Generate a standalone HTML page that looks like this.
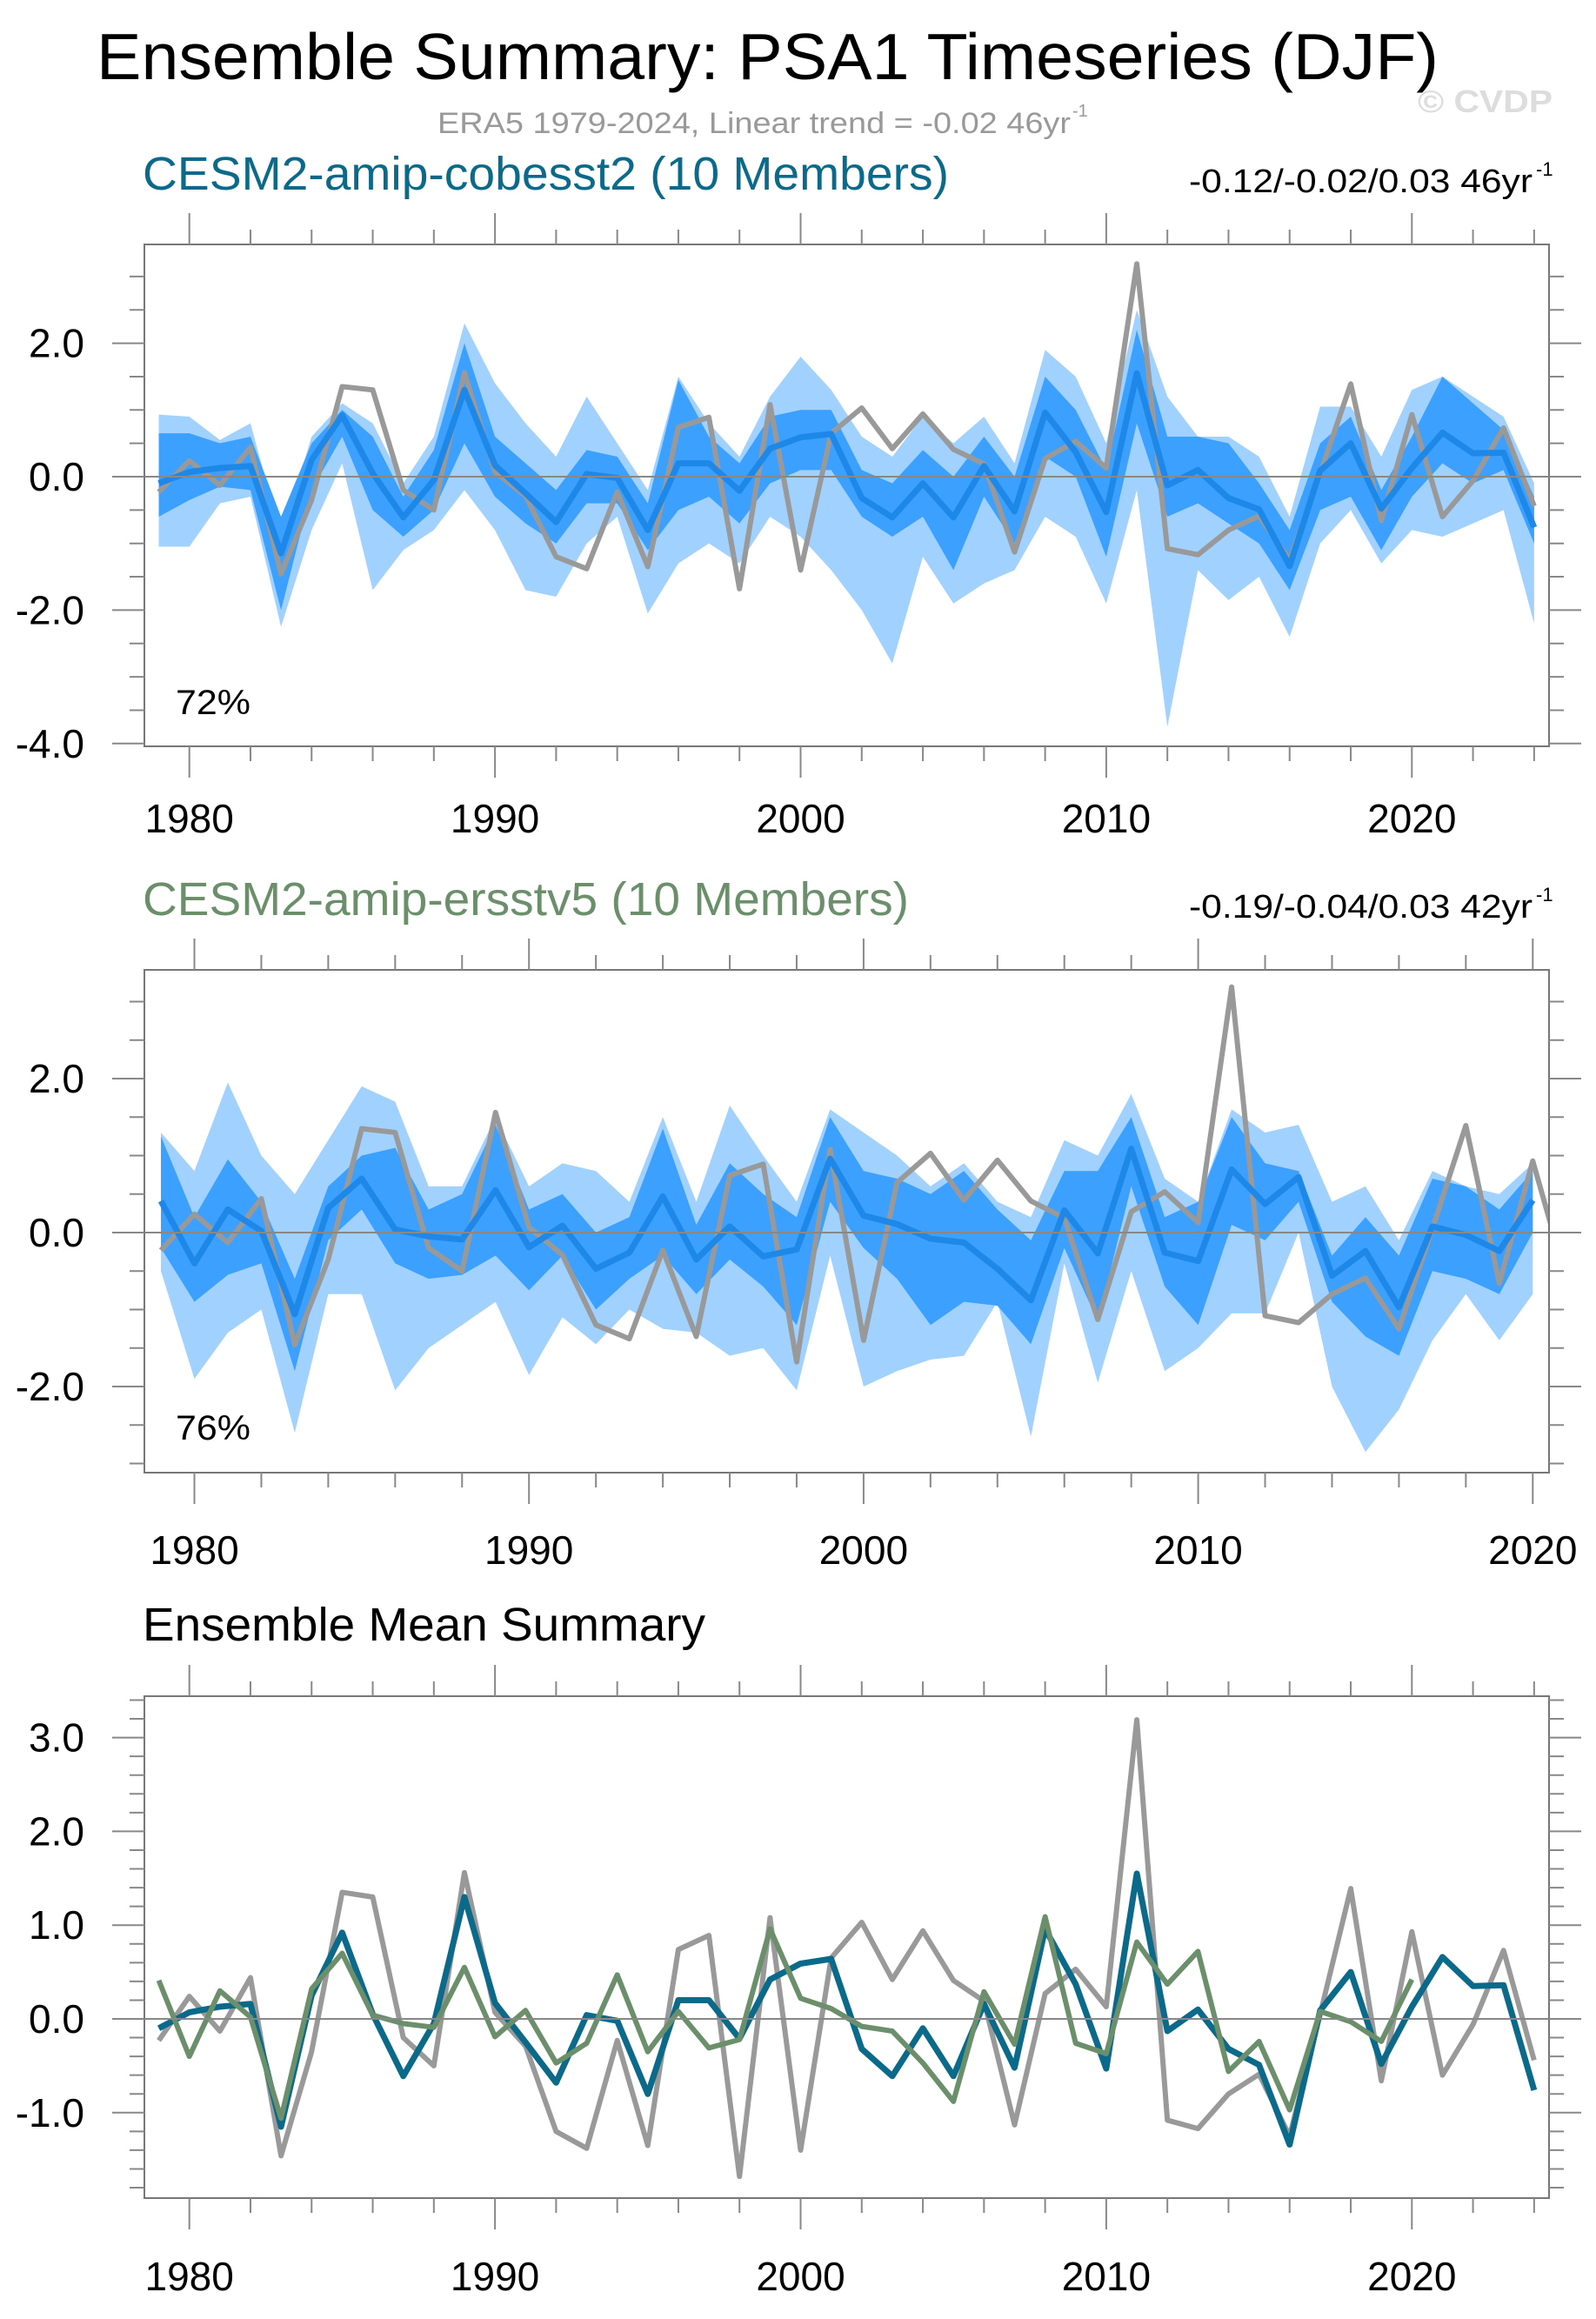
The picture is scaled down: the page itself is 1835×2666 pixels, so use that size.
<!DOCTYPE html>
<html><head><meta charset="utf-8"><title>Ensemble Summary: PSA1 Timeseries (DJF)</title>
<style>html,body{margin:0;padding:0;background:#fff}svg{display:block}text{font-family:"Liberation Sans",Arial,sans-serif}</style>
</head><body>
<svg id="chart" xmlns="http://www.w3.org/2000/svg" width="1835" height="2666" viewBox="0 0 1835 2666">
<rect width="1835" height="2666" fill="#fff"/>
<text x="111" y="91" font-size="75" textLength="1543" lengthAdjust="spacingAndGlyphs">Ensemble Summary: PSA1 Timeseries (DJF)</text>
<text x="503" y="153" font-size="34" fill="#999" textLength="728" lengthAdjust="spacingAndGlyphs">ERA5 1979-2024, Linear trend = -0.02 46yr</text>
<text x="1233" y="134" font-size="20" fill="#999">-1</text>
<text x="1630" y="129" font-size="36" font-weight="bold" fill="#ddd" textLength="155" lengthAdjust="spacingAndGlyphs">© CVDP</text>
<g id="plots"></g>
</svg>
<script>
const yearsObs = [1979,1980,1981,1982,1983,1984,1985,1986,1987,1988,1989,1990,1991,1992,1993,1994,1995,1996,1997,1998,1999,2000,2001,2002,2003,2004,2005,2006,2007,2008,2009,2010,2011,2012,2013,2014,2015,2016,2017,2018,2019,2020,2021,2022,2023,2024];
const era5 = [-0.23,0.24,-0.13,0.44,-1.46,-0.35,1.35,1.3,-0.2,-0.5,1.56,0.07,-0.29,-1.2,-1.38,-0.23,-1.35,0.74,0.89,-1.68,1.08,-1.4,0.65,1.03,0.42,0.94,0.41,0.19,-1.13,0.27,0.53,0.13,3.19,-1.08,-1.17,-0.8,-0.59,-1.25,0.05,1.39,-0.66,0.93,-0.6,-0.06,0.73,-0.44];
const yearsCobe = yearsObs;
const cobeMean = [-0.1,0.07,0.13,0.16,-1.15,0.25,0.92,0.05,-0.61,-0.05,1.3,0.17,-0.25,-0.68,0.04,-0.02,-0.8,0.2,0.2,-0.21,0.42,0.59,0.64,-0.32,-0.61,-0.1,-0.61,0.16,-0.52,0.96,0.37,-0.53,1.55,-0.13,0.1,-0.32,-0.49,-1.34,0.09,0.5,-0.48,0.13,0.66,0.35,0.36,-0.76];
const cobeMaxHi = [0.93,0.9,0.55,0.8,-0.9,0.6,1.1,0.8,-0.1,0.6,2.3,1.4,0.8,0.3,1.2,0.5,-0.2,1.5,0.8,0.3,1.2,1.8,1.3,0.6,0.3,0.9,0.5,0.9,0.2,1.9,1.5,0.5,2.5,1.2,0.6,0.6,0.3,-0.6,1.05,1.05,0.3,1.3,1.5,1.2,0.9,-0.1];
const cobeMinLo = [-1.05,-1.05,-0.4,-0.3,-2.25,-0.8,0.2,-1.7,-1.1,-0.8,-0.2,-0.8,-1.7,-1.8,-1.0,-0.6,-2.05,-1.3,-1.0,-1.3,-0.6,-0.9,-1.4,-2.0,-2.8,-1.2,-1.9,-1.6,-1.4,-0.6,-0.9,-1.9,-0.2,-3.75,-1.4,-1.85,-1.5,-2.4,-1.0,-0.5,-1.3,-0.8,-0.9,-0.7,-0.5,-2.2];
const cobeQHi = [0.65,0.65,0.5,0.6,-0.6,0.5,1.0,0.6,-0.3,0.4,2.0,0.6,0.2,-0.2,0.4,0.3,-0.4,1.45,0.6,0.2,0.9,1.0,1.0,0.1,-0.1,0.4,0.0,0.6,0.0,1.5,1.0,0.1,2.2,0.6,0.6,0.5,-0.1,-0.8,0.5,0.9,-0.2,0.6,1.5,1.1,0.7,-0.3];
const cobeQLo = [-0.6,-0.35,-0.15,-0.2,-2.0,-0.2,0.6,-0.5,-0.9,-0.5,0.5,-0.3,-0.7,-1.0,-0.4,-0.4,-1.1,-0.5,-0.3,-0.7,-0.1,0.1,0.1,-0.6,-0.9,-0.6,-1.4,-0.3,-1.0,0.3,0.0,-1.2,0.8,-0.6,-0.4,-0.7,-1.0,-1.7,-0.5,-0.3,-1.1,-0.3,0.2,-0.1,0.1,-1.0];
const yearsErsst = [1979,1980,1981,1982,1983,1984,1985,1986,1987,1988,1989,1990,1991,1992,1993,1994,1995,1996,1997,1998,1999,2000,2001,2002,2003,2004,2005,2006,2007,2008,2009,2010,2011,2012,2013,2014,2015,2016,2017,2018,2019,2020];
const ersstMean = [0.41,-0.4,0.3,0.02,-1.06,0.32,0.7,0.04,-0.05,-0.09,0.55,-0.19,0.09,-0.47,-0.26,0.47,-0.35,0.08,-0.31,-0.22,0.96,0.22,0.11,-0.08,-0.13,-0.47,-0.88,0.29,-0.27,1.09,-0.26,-0.37,0.82,0.37,0.72,-0.56,-0.24,-0.97,0.08,-0.03,-0.24,0.42];
const ersstMaxHi = [1.3,0.8,1.95,1.0,0.5,1.2,1.9,1.7,0.6,0.6,1.5,0.6,0.9,0.8,0.4,1.5,0.4,1.65,1.0,0.4,1.6,1.3,1.0,0.6,0.9,0.4,0.2,1.2,1.0,1.8,0.7,0.4,1.6,1.3,1.4,0.4,0.6,-0.1,0.8,0.6,0.5,0.9];
const ersstMinLo = [-0.5,-1.9,-1.3,-1.0,-2.6,-0.8,-0.8,-2.05,-1.5,-1.2,-0.9,-1.85,-1.1,-1.45,-1.0,-1.25,-1.3,-1.6,-1.5,-2.05,-0.3,-2.0,-1.8,-1.65,-1.6,-0.9,-2.65,-0.4,-1.95,-0.5,-1.8,-1.5,-1.05,-1.05,0.0,-2.0,-2.85,-2.3,-1.4,-0.8,-1.4,-0.8];
const ersstQHi = [1.25,0.2,0.95,0.4,-0.6,0.6,1.0,1.1,0.3,0.5,1.4,0.3,0.5,0.0,0.2,1.35,0.1,0.9,0.5,0.2,1.5,0.8,0.7,0.5,0.8,0.3,-0.1,0.8,0.8,1.5,0.2,0.4,1.5,0.9,0.8,-0.3,0.2,-0.3,0.7,0.6,0.3,0.8];
const ersstQLo = [-0.2,-0.9,-0.55,-0.4,-1.8,-0.1,0.3,-0.4,-0.6,-0.55,-0.3,-0.75,-0.3,-1.0,-0.6,-0.3,-0.8,-0.35,-0.7,-1.2,0.4,-0.2,-0.6,-1.2,-0.9,-0.95,-1.45,-0.2,-1.15,0.6,-0.7,-1.2,0.1,-0.1,0.4,-0.9,-1.35,-1.6,-0.5,-0.6,-0.8,0.0];
const xTickLabels = [1980,1990,2000,2010,2020];
const yTicksP1 = [2.0,0.0,-2.0,-4.0];
const yTicksP2 = [2.0,0.0,-2.0];
const yTicksP3 = [3.0,2.0,1.0,0.0,-1.0];

const NS = "http://www.w3.org/2000/svg";
const root = document.getElementById('plots');
function el(tag, attrs, parent){const e=document.createElementNS(NS,tag);for(const k in attrs)e.setAttribute(k,attrs[k]);(parent||root).appendChild(e);return e;}

function makePanel(cfg){
  const g = el('g',{});
  
  
  const L=166,R=1781,T=cfg.top,B=cfg.bottom;
  const xs = y => cfg.x0 + (y - 1980)*cfg.xs;
  const ys = v => cfg.y0 - v*cfg.ys;
  const cid = cfg.name+'-clip';
  const defs = el('defs',{},g);
  const cp = el('clipPath',{id:cid},defs);
  el('rect',{x:L,y:T,width:R-L,height:B-T},cp);
  const pg = el('g',{'clip-path':'url(#'+cid+')'},g);
  function band(yrs, hi, lo, fill, name){
    let d='M'+yrs.map((y,i)=>xs(y)+','+ys(hi[i])).join('L');
    for(let i=yrs.length-1;i>=0;i--) d+='L'+xs(yrs[i])+','+ys(lo[i]);
    const p = el('path',{d:d+'Z',fill:fill},pg);
    
    
  }
  function line(yrs, vals, color, w, name){
    const p = el('polyline',{points:yrs.map((y,i)=>xs(y)+','+ys(vals[i])).join(' '),fill:'none',stroke:color,'stroke-width':w,'stroke-linejoin':'round'},pg);
    
    
  }
  if(cfg.bands){
    band(cfg.yrs,cfg.bands[0],cfg.bands[1],'#a0d1ff','minmax-band');
    band(cfg.yrs,cfg.bands[2],cfg.bands[3],'#3ba0ff','quartile-band');
  }
  const zl = el('line',{x1:L,x2:R,y1:ys(0),y2:ys(0),stroke:'#888','stroke-width':2},g);
  
  
  cfg.lines.forEach(s=>line(s[0],s[1],s[2],s[3],s[4]));
  const fr = el('rect',{x:L,y:T,width:R-L,height:B-T,fill:'none',stroke:'#777','stroke-width':2},g);
  
  
  for(let yr=1980; yr<=2024; yr+=2){
    const x=xs(yr); if(x<L||x>R) continue;
    const maj = yr%10===0; const len = maj?36:17;
    el('line',{x1:x,x2:x,y1:T,y2:T-len,stroke:'#888','stroke-width':2},g);
    el('line',{x1:x,x2:x,y1:B,y2:B+len,stroke:'#888','stroke-width':2},g);
  }
  xTickLabels.forEach(yr=>{
    const t = el('text',{x:xs(yr),y:cfg.xlabY,'font-size':46,'text-anchor':'middle'},g);
    t.textContent = String(yr);
    
    
  });
  const vmin=(cfg.y0-B)/cfg.ys, vmax=(cfg.y0-T)/cfg.ys;
  for(let k=Math.ceil(vmin/cfg.minor-1e-6); k*cfg.minor<=vmax+1e-6; k++){
    const v=k*cfg.minor, y=ys(v);
    const maj = Math.abs(v/cfg.major - Math.round(v/cfg.major))<1e-6;
    const len = maj?37:17;
    el('line',{x1:L,x2:L-len,y1:y,y2:y,stroke:'#888','stroke-width':2},g);
    el('line',{x1:R,x2:R+len,y1:y,y2:y,stroke:'#888','stroke-width':2},g);
  }
  cfg.yticks.forEach(v=>{
    const t = el('text',{x:97,y:ys(v)+16,'font-size':46,'text-anchor':'end'},g);
    t.textContent = v.toFixed(1);
    
    
  });
  const tt = el('text',{x:164,y:cfg.titleY,'font-size':54,fill:cfg.titleColor,textLength:cfg.titleW,lengthAdjust:'spacingAndGlyphs'},g);
  tt.textContent = cfg.title;
  
  
  if(cfg.right){
    const rt = el('text',{x:1367,y:cfg.titleY+3,'font-size':38,textLength:395,lengthAdjust:'spacingAndGlyphs'},g);
    rt.textContent = cfg.right;
    
    
    const sup = el('text',{x:1766,y:cfg.titleY-16,'font-size':22},g);
    sup.textContent = '-1';
    
    
  }
  if(cfg.pct){
    const pt = el('text',{x:202,y:cfg.pctY,'font-size':40,textLength:86,lengthAdjust:'spacingAndGlyphs'},g);
    pt.textContent = cfg.pct;
    
    
  }
}

makePanel({name:'panel-cobesst2',top:281,bottom:858,x0:217.7,xs:35.14,y0:548,ys:76.7,minor:0.5,major:2,yticks:yTicksP1,xlabY:957,
  titleY:218,title:'CESM2-amip-cobesst2 (10 Members)',titleW:927,titleColor:'#0b6a8a',right:'-0.12/-0.02/0.03 46yr',pct:'72%',pctY:821,
  yrs:yearsCobe,bands:[cobeMaxHi,cobeMinLo,cobeQHi,cobeQLo],
  lines:[[yearsObs,era5,'#999',6,'era5-line'],[yearsCobe,cobeMean,'#1e88e8',7,'ensemble-mean-line']]});
makePanel({name:'panel-ersstv5',top:1115,bottom:1693,x0:223.5,xs:38.47,y0:1417,ys:88.5,minor:0.5,major:2,yticks:yTicksP2,xlabY:1798,
  titleY:1052,title:'CESM2-amip-ersstv5 (10 Members)',titleW:881,titleColor:'#6a8f6a',right:'-0.19/-0.04/0.03 42yr',pct:'76%',pctY:1655,
  yrs:yearsErsst,bands:[ersstMaxHi,ersstMinLo,ersstQHi,ersstQLo],
  lines:[[yearsObs,era5,'#999',6,'era5-line'],[yearsErsst,ersstMean,'#1e88e8',7,'ensemble-mean-line']]});
makePanel({name:'panel-ensemble-mean',top:1950,bottom:2527,x0:217.7,xs:35.14,y0:2321,ys:107.8,minor:0.2,major:1,yticks:yTicksP3,xlabY:2633,
  titleY:1886,title:'Ensemble Mean Summary',titleW:647,titleColor:'#000',
  lines:[[yearsObs,era5,'#999',6,'era5-line'],[yearsCobe,cobeMean,'#0b6a8a',7,'cobesst2-mean-line'],[yearsErsst,ersstMean,'#6a8f6a',6,'ersstv5-mean-line']]});
</script>
</body></html>
